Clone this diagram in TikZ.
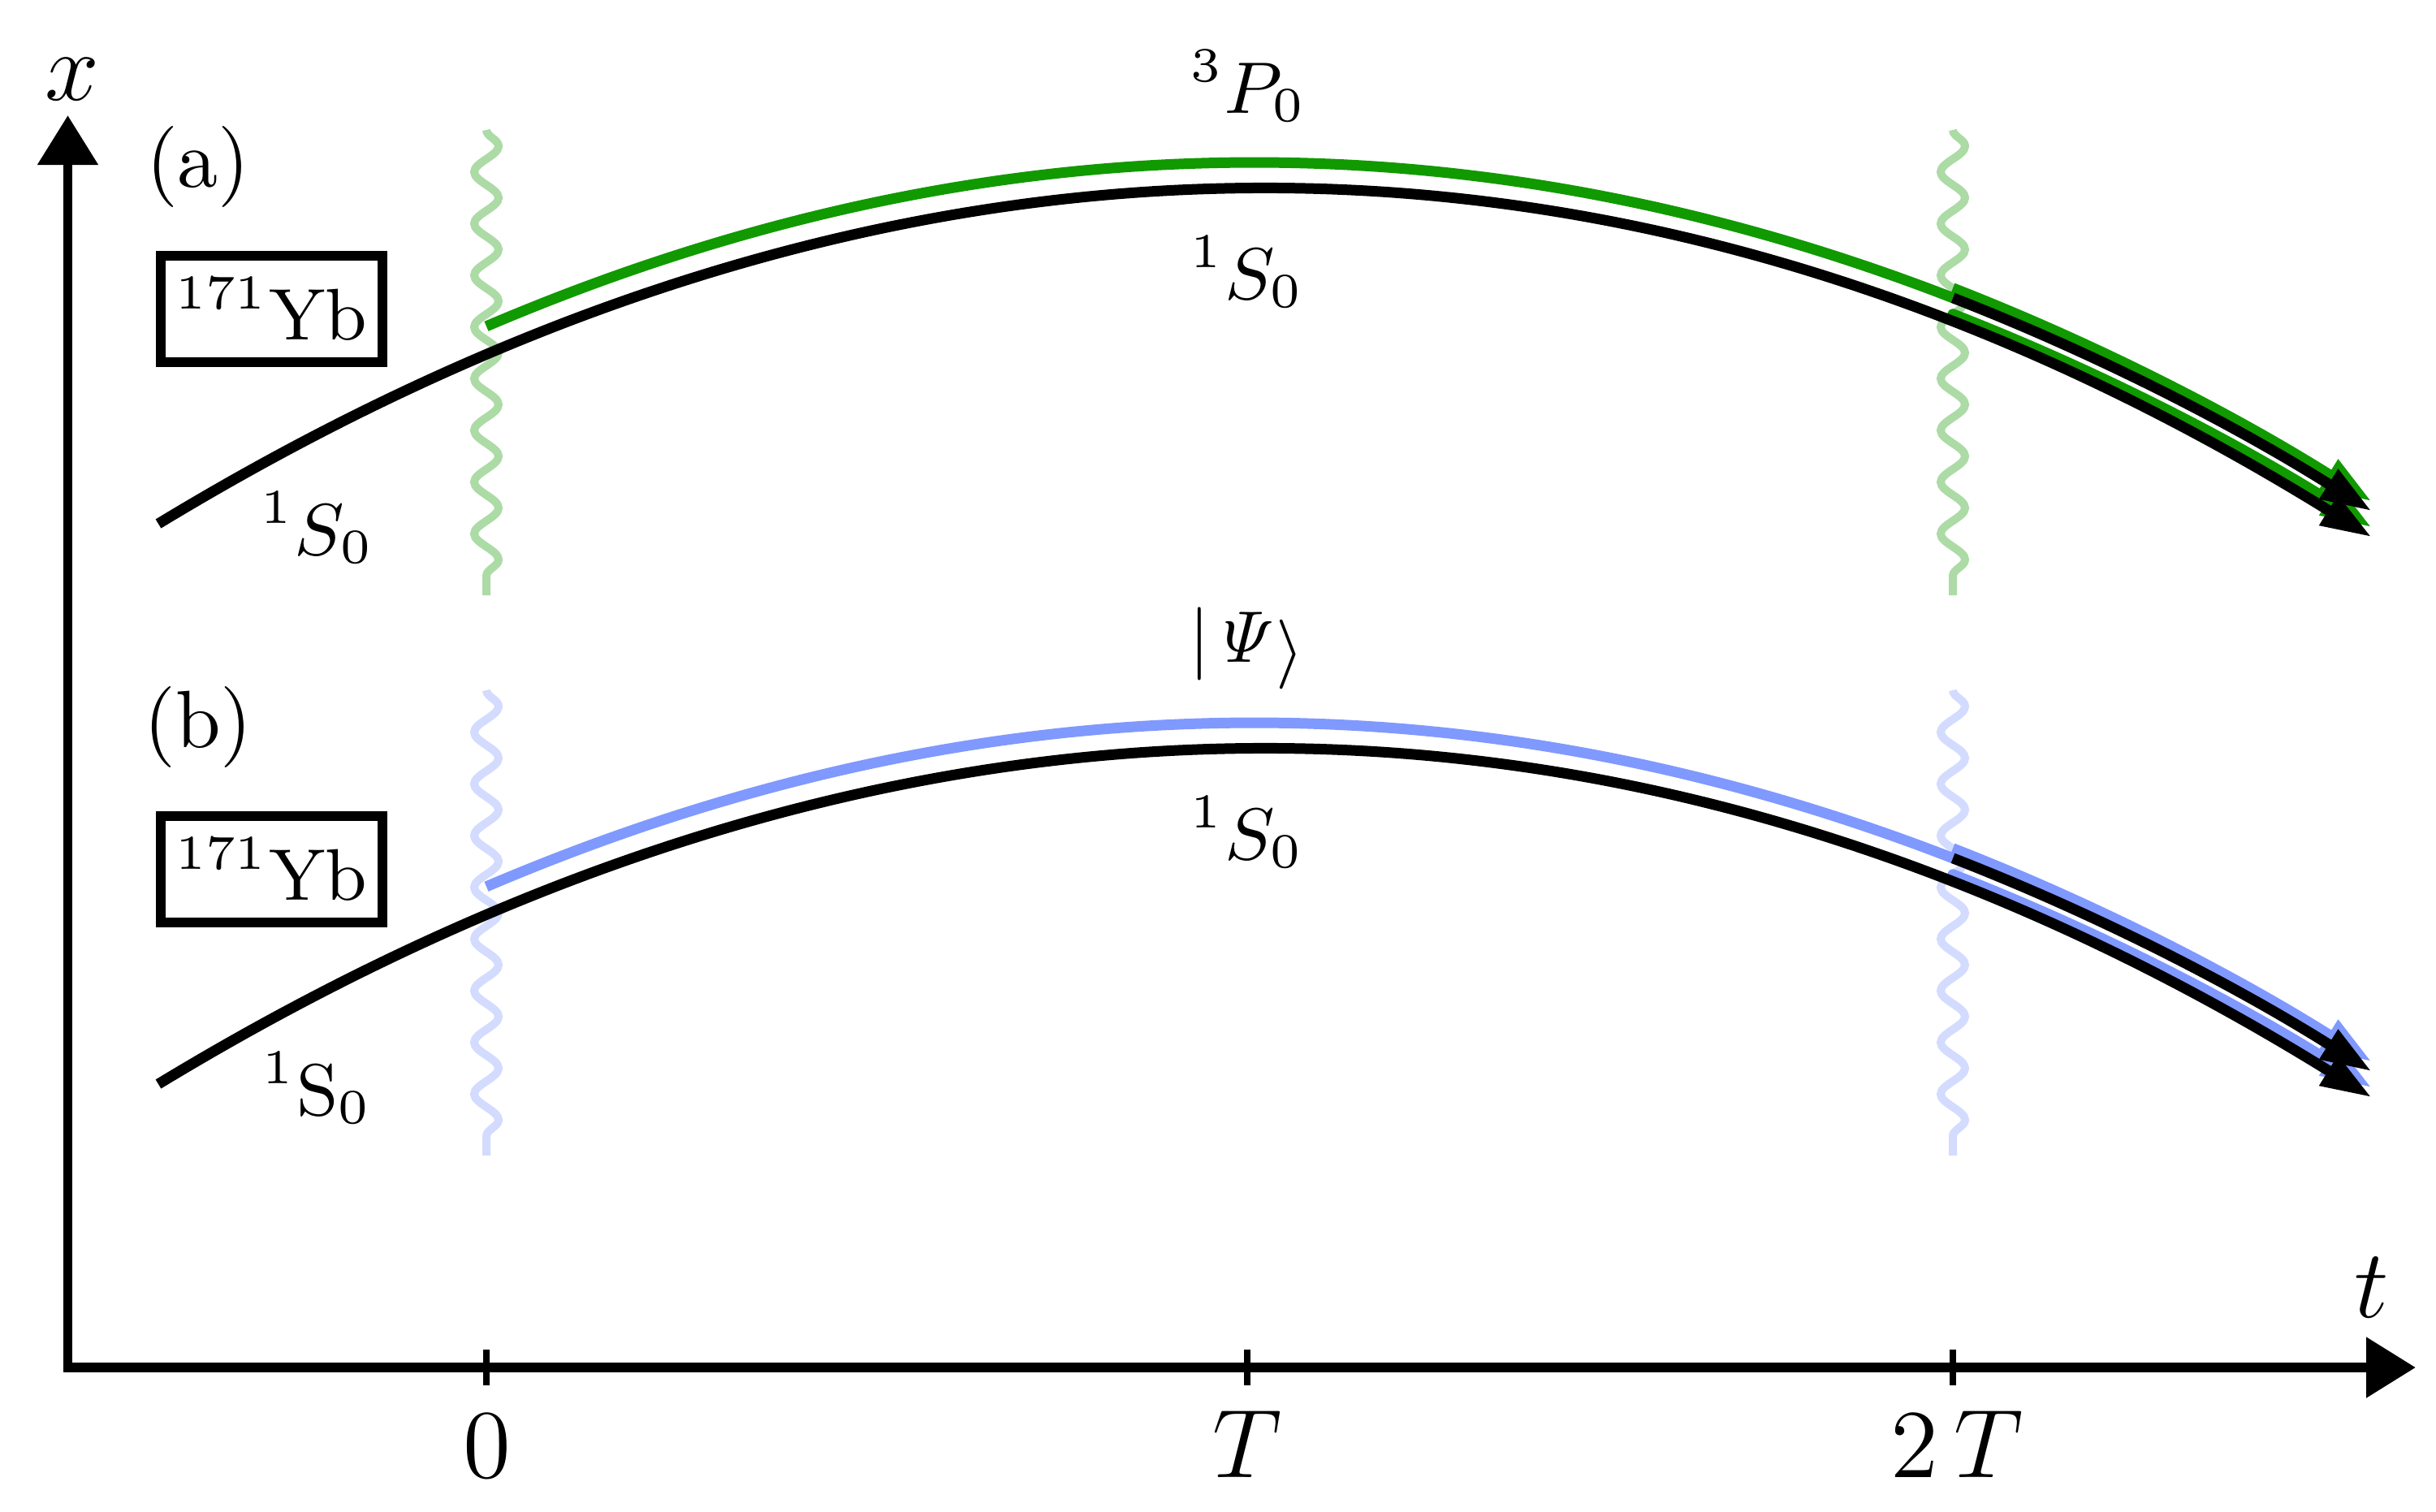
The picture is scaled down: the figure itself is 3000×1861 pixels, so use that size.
\documentclass[tikz,border=0pt]{standalone}
\usepackage{graphicx}
\usetikzlibrary{arrows.meta,decorations.pathmorphing}
\definecolor{greenline}{RGB}{17,153,0}
\definecolor{blueline}{RGB}{128,153,255}
\colorlet{greenwave}{greenline!35!white}
\colorlet{bluewave}{blueline!35!white}
\begin{document}
\begin{tikzpicture}[x=0.1pt,y=-0.1pt,
  traj/.style={line width=1.3pt},
  trajarrow/.style={-{Triangle[length=6.3pt,width=4pt]}},
  axisline/.style={line width=1.2pt, line join=miter},
  tickmark/.style={line width=0.8pt},
  wave/.style={line width=1pt, decorate, decoration={snake, segment length=6.366pt, amplitude=1.5pt}},
  lvl/.style={inner sep=0pt, anchor=base, font=\fontsize{9}{11}\selectfont},
  panlab/.style={inner sep=0pt, anchor=base},
  axlab/.style={inner sep=0pt, anchor=base, font=\fontsize{13}{15.6}\selectfont},
  isobox/.style={draw, line width=1.2pt, minimum width=27.3pt, minimum height=13.1pt, inner sep=0pt, font=\fontsize{9}{11}\selectfont}
]
\useasboundingbox (0,0) rectangle (3000,1861);

% axes
\coordinate (xtop) at (83.5,142);
\coordinate (origin) at (83.5,1684);
\coordinate (tend) at (2975,1684);
\draw[axisline, {Triangle[length=6.1pt,width=7.2pt]}-{Triangle[length=6.1pt,width=7.2pt]}] (xtop) -- (origin) -- (tend);
\draw[tickmark] (599,1662) -- (599,1706);
\draw[tickmark] (1536,1662) -- (1536,1706);
\draw[tickmark] (2405,1662) -- (2405,1706);
\node[axlab] (xlabel) at (88.5,123) {$x$};
\node[axlab] (tlabel) at (2921,1622) {$t$};
\node[axlab] (tick0) at (599.5,1819) {$0$};
\node[axlab] (tickT) at (1536,1819) {$T$};
\node[axlab] (tick2T) at (2410,1819) {$2\,T$};

% ---------- panel (a)
\draw[wave, greenwave] (599,160) -- (599,733);
\draw[wave, greenwave] (2405,160) -- (2405,733);
\draw[traj, greenline] (599,401.80) .. controls (1201,144.96) and (1803,133.29) .. (2405,366.78);
\draw[traj, trajarrow, greenline] (2405,354.78) .. controls (2577,421.6) and (2749,509.2) .. (2921,617.5);
\draw[traj, trajarrow, greenline, line cap=round] (2405,386.78) .. controls (2577,453.6) and (2749,541.2) .. (2921,649.5);
\draw[traj, trajarrow] (195,644.97) .. controls (1104,93.6) and (2012,98.5) .. (2921,661.5);
\draw[traj, trajarrow] (2405,366.78) .. controls (2577,433.6) and (2749,521.2) .. (2921,629.5);
\node[panlab] (pa) at (244,230) {(a)};
\node[isobox] (yba) at (334.5,380.5) {$^{171}$Yb};
\node[lvl] (sa) at (391,683) {${}^1S_0$};
\node[lvl] (pza) at (1537.5,139) {${}^3P_0$};
\node[lvl] (sat) at (1536.5,368) {${}^1S_0$};

% ---------- panel (b)
\begin{scope}[shift={(0,690)}]
\draw[wave, bluewave] (599,160) -- (599,733);
\draw[wave, bluewave] (2405,160) -- (2405,733);
\draw[traj, blueline] (599,401.80) .. controls (1201,144.96) and (1803,133.29) .. (2405,366.78);
\draw[traj, trajarrow, blueline] (2405,354.78) .. controls (2577,421.6) and (2749,509.2) .. (2921,617.5);
\draw[traj, trajarrow, blueline, line cap=round] (2405,386.78) .. controls (2577,453.6) and (2749,541.2) .. (2921,649.5);
\draw[traj, trajarrow] (195,644.97) .. controls (1104,93.6) and (2012,98.5) .. (2921,661.5);
\draw[traj, trajarrow] (2405,366.78) .. controls (2577,433.6) and (2749,521.2) .. (2921,629.5);
\node[panlab] (pb) at (244,230) {(b)};
\node[isobox] (ybb) at (334.5,380.5) {$^{171}$Yb};
\node[lvl] (sb) at (391,683) {$^1$S$_0$};
\node[lvl] (psi) at (1535,125) {$|\mathit{\Psi}\raisebox{-1.2pt}{\scalebox{0.95}{$\rangle$}}$};
\node[lvl] (sbt) at (1536.5,368) {${}^1S_0$};
\end{scope}
\end{tikzpicture}
\end{document}
